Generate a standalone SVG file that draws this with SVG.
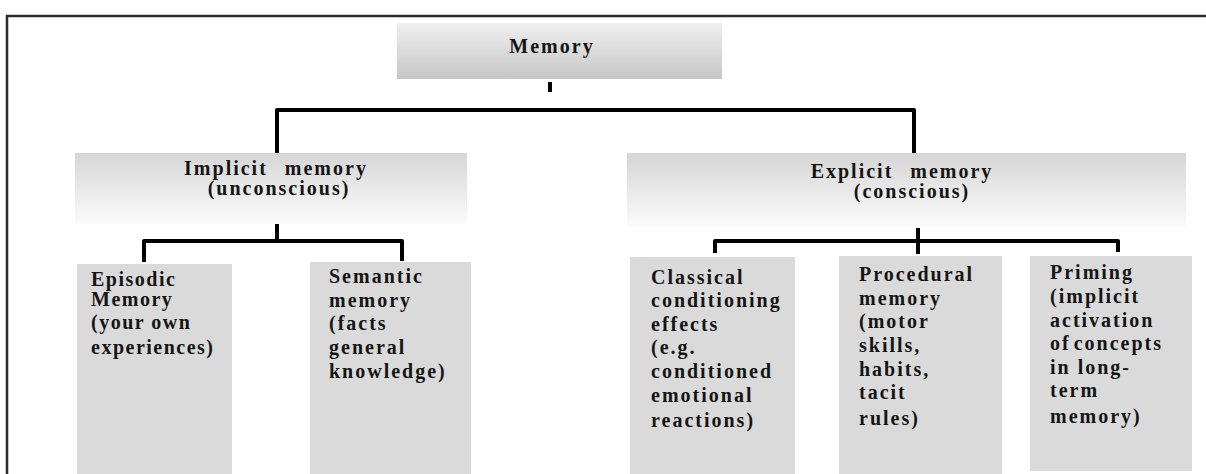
<svg xmlns="http://www.w3.org/2000/svg" width="1206" height="474" viewBox="0 0 1206 474">
  <defs>
    <linearGradient id="gradRoot" x1="0" y1="0" x2="0" y2="1">
      <stop offset="0" stop-color="#efefef"/>
      <stop offset="1" stop-color="#c6c6c6"/>
    </linearGradient>
    <linearGradient id="gradBranch" x1="0" y1="0" x2="0" y2="1">
      <stop offset="0" stop-color="#d6d6d6"/>
      <stop offset="1" stop-color="#fbfbfb"/>
    </linearGradient>
    <style>
      .lbl { font-family: "Liberation Serif", "Times New Roman", serif; font-weight: bold; font-size: 20px; fill: #151515; letter-spacing: 2px; }
      .head { text-anchor: middle; word-spacing: 10px; }
      .leaf { fill: #dadada; }
      .wire { fill: none; stroke: #000; stroke-width: 4; stroke-linejoin: round; }
      .frame { fill: none; stroke: #2b2b2b; stroke-width: 2.5; }
    </style>
  </defs>

  <rect width="1206" height="474" fill="#ffffff"/>

  <!-- page frame -->
  <path class="frame" d="M7,474 V16 H1206"/>

  <!-- connectors -->
  <g id="connectors">
    <path class="wire" stroke-width="3" d="M550,82 V92"/>
    <path class="wire" d="M277,153 V110 H914 V153"/>
    <path class="wire" d="M277,210 V241 H144 V262"/>
    <path class="wire" d="M277,241 H402 V261"/>
    <path class="wire" d="M918,228 V254"/>
    <path class="wire" d="M715,253 V241 H1118 V252"/>
  </g>

  <!-- root -->
  <g id="node-memory">
    <rect x="397" y="23" width="325" height="56" fill="url(#gradRoot)"/>
    <text class="lbl head" x="552" y="53">Memory</text>
  </g>

  <!-- level 1 -->
  <g id="node-implicit">
    <rect x="75" y="153" width="392" height="71" fill="url(#gradBranch)"/>
    <text class="lbl head" x="276" y="175">Implicit memory</text>
    <text class="lbl head" x="279" y="195">(unconscious)</text>
  </g>

  <g id="node-explicit">
    <rect x="627" y="153" width="559" height="74" fill="url(#gradBranch)"/>
    <text class="lbl head" x="902" y="178">Explicit memory</text>
    <text class="lbl head" x="912" y="198">(conscious)</text>
  </g>

  <!-- level 2, implicit branch -->
  <g id="node-episodic">
    <rect class="leaf" x="77" y="264" width="155" height="212"/>
    <text class="lbl" x="91" y="286" style="letter-spacing:1.5px">
      <tspan x="91" y="286">Episodic</tspan>
      <tspan x="91" y="306">Memory</tspan>
      <tspan x="91" y="329">(your own</tspan>
      <tspan x="91" y="354">experiences)</tspan>
    </text>
  </g>

  <g id="node-semantic">
    <rect class="leaf" x="310" y="262" width="161" height="214"/>
    <text class="lbl" x="329" y="283">
      <tspan x="329" y="283">Semantic</tspan>
      <tspan x="329" y="307">memory</tspan>
      <tspan x="329" y="330">(facts</tspan>
      <tspan x="329" y="354">general</tspan>
      <tspan x="329" y="378">knowledge)</tspan>
    </text>
  </g>

  <!-- level 2, explicit branch -->
  <g id="node-classical">
    <rect class="leaf" x="630" y="257" width="165" height="219"/>
    <text class="lbl" x="651" y="284">
      <tspan x="651" y="284">Classical</tspan>
      <tspan x="651" y="307">conditioning</tspan>
      <tspan x="651" y="331">effects</tspan>
      <tspan x="651" y="354">(e.g.</tspan>
      <tspan x="651" y="378">conditioned</tspan>
      <tspan x="651" y="402">emotional</tspan>
      <tspan x="651" y="427">reactions)</tspan>
    </text>
  </g>

  <g id="node-procedural">
    <rect class="leaf" x="839" y="256" width="163" height="220"/>
    <text class="lbl" x="859" y="281">
      <tspan x="859" y="281">Procedural</tspan>
      <tspan x="859" y="305">memory</tspan>
      <tspan x="859" y="328">(motor</tspan>
      <tspan x="859" y="352">skills,</tspan>
      <tspan x="859" y="376">habits,</tspan>
      <tspan x="859" y="399">tacit</tspan>
      <tspan x="859" y="425">rules)</tspan>
    </text>
  </g>

  <g id="node-priming">
    <rect class="leaf" x="1030" y="256" width="162" height="215"/>
    <text class="lbl" x="1050" y="279">
      <tspan x="1050" y="279">Priming</tspan>
      <tspan x="1050" y="303">(implicit</tspan>
      <tspan x="1050" y="327">activation</tspan>
      <tspan x="1050" y="350" style="word-spacing:-4px">of concepts</tspan>
      <tspan x="1050" y="374">in long-</tspan>
      <tspan x="1050" y="397">term</tspan>
      <tspan x="1050" y="423">memory)</tspan>
    </text>
  </g>
</svg>
